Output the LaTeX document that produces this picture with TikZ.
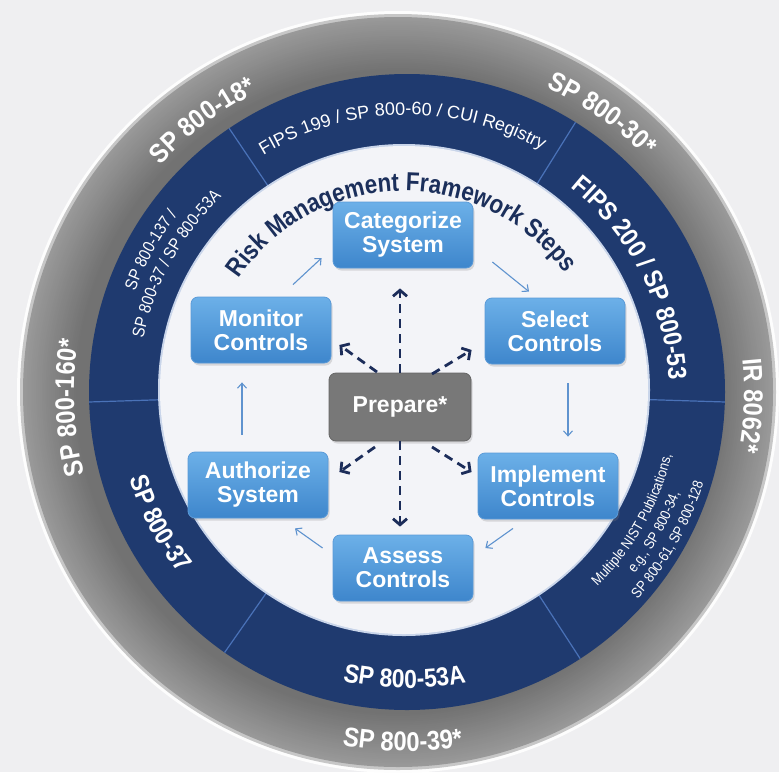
\documentclass[tikz,border=0pt]{standalone}
\usepackage{fontspec}
\setmainfont{Liberation Sans}
\newfontfamily\narrowfont[FakeStretch=0.88]{Liberation Sans}
\newfontfamily\titlefam[FakeStretch=0.86]{Liberation Sans}
\usetikzlibrary{decorations.text,arrows.meta,calc,shadows}
\definecolor{bgc}{HTML}{EFEFF1}
\definecolor{navy}{HTML}{1F3A6F}
\definecolor{divc}{HTML}{4A72B8}
\definecolor{disk}{HTML}{F3F4F8}
\definecolor{boxtop}{HTML}{6CB0E8}
\definecolor{boxbot}{HTML}{3E86CC}
\definecolor{boxedge}{HTML}{5A9AD8}
\definecolor{prepc}{HTML}{787878}
\definecolor{cycc}{HTML}{5F93CF}
\definecolor{dashc}{HTML}{1C2D5A}
\definecolor{titlec}{HTML}{1B2F5B}
\newcommand\fgray{\narrowfont\bfseries\fontsize{27}{27}\selectfont}
\newcommand\fbig{\narrowfont\bfseries\fontsize{26}{26}\selectfont}
\newcommand\fmid{\fontsize{18}{18}\selectfont}
\newcommand\fsmall{\narrowfont\fontsize{17}{17}\selectfont}
\newcommand\ftiny{\narrowfont\fontsize{14.5}{14.5}\selectfont}
\newcommand\ftitle{\titlefam\bfseries\fontsize{26}{26}\selectfont}
\newcommand\fstep{\bfseries\fontsize{23}{24}\selectfont}
\newcommand\cwtext[4]{%
  \pgfmathsetmacro\myA{#2+70}\pgfmathsetmacro\myB{#2-70}%
  \path[decorate,decoration={text along path,text align=center,text={#4}}]
    ($(#1)+(\myA:#3)$) arc[start angle=\myA,end angle=\myB,radius=#3];}
\newcommand\ccwtext[4]{%
  \pgfmathsetmacro\myA{#2-70}\pgfmathsetmacro\myB{#2+70}%
  \path[decorate,decoration={text along path,text align=center,text={#4}}]
    ($(#1)+(\myA:#3)$) arc[start angle=\myA,end angle=\myB,radius=#3];}
\begin{document}
\begin{tikzpicture}[x=1pt,y=1pt,
  stepbox/.style={rounded corners=7pt, minimum width=140pt, minimum height=66pt,
    top color=boxtop, bottom color=boxbot, draw=boxedge, line width=0.8pt,
    text=white, font=\fstep, align=center,
    drop shadow={shadow xshift=1.5pt, shadow yshift=-2.5pt, opacity=0.25}},
  prepbox/.style={rounded corners=7pt, minimum width=142pt, minimum height=68pt,
    fill=prepc, draw=prepc!85!black, line width=0.8pt, text=white, font=\fstep,
    drop shadow={shadow xshift=1.5pt, shadow yshift=-2.5pt, opacity=0.25}},
  cyc/.style={draw=cycc, line width=1.1pt, -{Straight Barb[length=5pt,width=9pt]}},
  dasharr/.style={draw=dashc, line width=2.8pt, dash pattern=on 9pt off 6pt,
    -{Straight Barb[length=6pt,width=14pt]}},
  divider/.style={draw=divc, line width=1.2pt}]
\useasboundingbox (0,0) rectangle (779,-772);
\fill[bgc] (0,0) rectangle (779,-772);
\coordinate (G) at (398,-392);
\coordinate (B) at (407,-392);
\coordinate (W) at (404,-390);
% outer gray ring with gradient
\fill[white!85!bgc] (G) circle[radius=381];
\fill[black!22] (G) circle[radius=378];
\foreach \i in {0,...,28}{
  \pgfmathsetmacro\rr{375-1.9*\i}
  \pgfmathsetmacro\kk{40+0.55*\i}
  \fill[black!\kk] (G) circle[radius=\rr];
}
% blue ring
\fill[navy] (B) circle[radius=318];
\foreach \a in {124,58,-1.8,-57,-125,181.8}{
  \draw[divider] (B) -- ++(\a:318);
}
% white disk
\fill[white!70!divc] (W) circle[radius=246];
\fill[disk] (W) circle[radius=244];
% gray ring labels
\cwtext{B}{127}{335}{|\fgray\color{white}|SP 800-18*}
\cwtext{B}{55}{335}{|\fgray\color{white}|SP 800-30*}
\cwtext{B}{-2.3}{337}{|\fgray\color{white}|IR 8062*}
\cwtext{B}{182.7}{333}{|\fgray\color{white}|SP 800-160*}
\ccwtext{B}{-90.7}{359}{|\fgray\color{white}|SP 800-39*}
% blue ring labels
\cwtext{B}{91}{277}{|\fmid\color{white}|FIPS 199 / SP 800-60 / CUI Registry}
\cwtext{B}{27}{262}{|\fbig\color{white}|FIPS 200 / SP 800-53}
\ccwtext{B}{-90.5}{296}{|\fbig\color{white}|SP 800-53A}
\ccwtext{B}{208}{291}{|\fbig\color{white}|SP 800-37}
\cwtext{B}{151}{290}{|\fsmall\color{white}|SP 800-137 /}
\cwtext{B}{151}{269}{|\fsmall\color{white}|SP 800-37 / SP 800-53A}
\ccwtext{B}{-29.5}{272}{|\ftiny\color{white}|Multiple NIST Publications,}
\ccwtext{B}{-29.5}{291}{|\ftiny\color{white}|e.g., SP 800-34,}
\ccwtext{B}{-29.5}{310}{|\ftiny\color{white}|SP 800-61, SP 800-128}
% title
\cwtext{W}{91}{199}{|\ftitle\color{titlec}|Risk Management Framework Steps}
% step boxes
\node[stepbox] (cat) at (403,-235) {Categorize\\System};
\node[stepbox] (sel) at (555,-331) {Select\\Controls};
\node[stepbox] (imp) at (548,-486) {Implement\\Controls};
\node[stepbox] (ass) at (403,-568) {Assess\\Controls};
\node[stepbox] (aut) at (258,-485) {Authorize\\System};
\node[stepbox] (mon) at (261,-330) {Monitor\\Controls};
\node[prepbox] (prep) at (400,-407) {Prepare*};
% cycle arrows
\draw[cyc] ([shift={(19,-27)}]cat.east) -- ([shift={(-26,6)}]sel.north);
\draw[cyc] ([shift={(13,-19)}]sel.south) -- ([shift={(20,16)}]imp.north);
\draw[cyc] ([shift={(-35,-9)}]imp.south) -- ([shift={(12,20)}]ass.east);
\draw[cyc] ([shift={(-10,20)}]ass.west) -- ([shift={(37,-10)}]aut.south);
\draw[cyc] ([shift={(-16,17)}]aut.north) -- ([shift={(-19,-19)}]mon.south);
\draw[cyc] ([shift={(32,12)}]mon.north) -- ([shift={(-11,-23)}]cat.west);
% prepare arrows
\draw[dasharr] (prep.north) -- ([shift={(-3,-20)}]cat.south);
\draw[dasharr] (prep.south) -- ([shift={(-3,8)}]ass.north);
\draw[dasharr] ([shift={(-23,35)}]prep.center) -- ([shift={(8,-15)}]mon.east);
\draw[dasharr] ([shift={(32,33)}]prep.center) -- ([shift={(-13,-19)}]sel.west);
\draw[dasharr] ([shift={(-25,-40)}]prep.center) -- ([shift={(11,13)}]aut.east);
\draw[dasharr] ([shift={(32,-40)}]prep.center) -- ([shift={(-6,14)}]imp.west);
\end{tikzpicture}
\end{document}
